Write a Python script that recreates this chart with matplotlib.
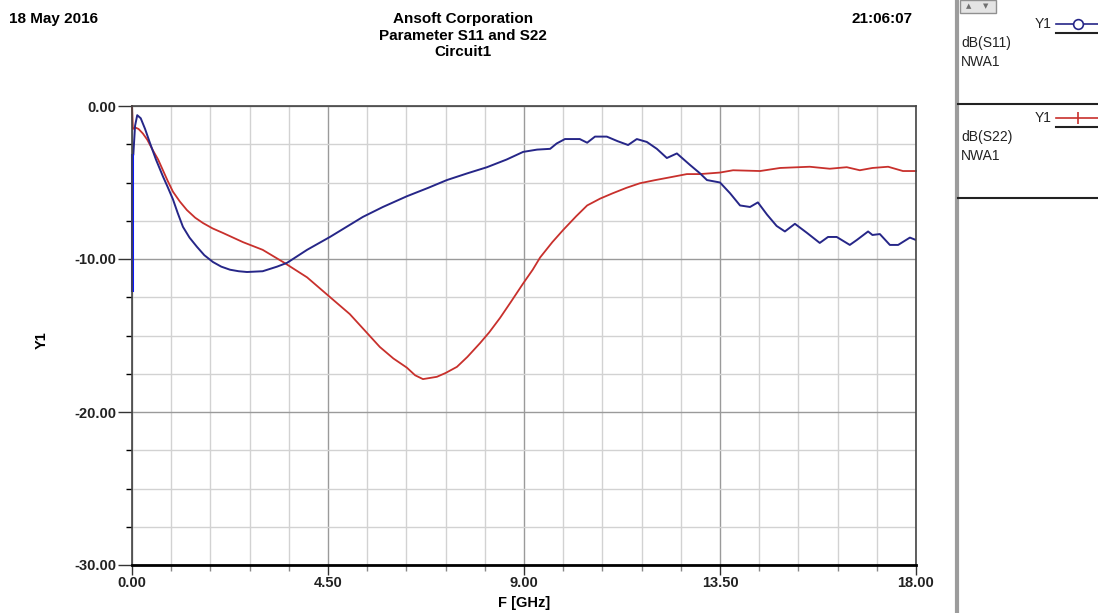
import matplotlib
matplotlib.use('Agg')
import matplotlib.pyplot as plt
from matplotlib.ticker import MultipleLocator, FormatStrFormatter
from matplotlib.patches import Rectangle

plt.rcParams['font.family'] = ['Liberation Sans', 'DejaVu Sans']

# S11 trace (blue)
s11_freq = [0.0, 0.0, 0.03, 0.07, 0.12, 0.2, 0.3, 0.41, 0.55, 0.71, 0.82, 0.94, 1.05, 1.17,
            1.32, 1.49, 1.66, 1.86, 2.05, 2.25, 2.45, 2.64, 3.0, 3.33, 3.56, 4.02, 4.55,
            5.3, 5.76, 6.31, 6.8, 7.23, 7.7, 8.15, 8.6, 8.98, 9.3, 9.6, 9.75, 9.94,
            10.28, 10.45, 10.63, 10.9, 11.15, 11.39, 11.59, 11.82, 12.05, 12.28, 12.51,
            12.81, 13.04, 13.2, 13.5, 13.73, 13.96, 14.19, 14.37, 14.58, 14.8, 14.99,
            15.22, 15.5, 15.79, 15.98, 16.18, 16.48, 16.64, 16.9, 17.0, 17.17, 17.4,
            17.59, 17.86, 18.0]
s11_db = [-12.0, -3.2, -3.2, -1.3, -0.6, -0.8, -1.5, -2.4, -3.5, -4.6, -5.3, -6.1, -7.0, -7.9,
          -8.6, -9.2, -9.75, -10.2, -10.5, -10.7, -10.8, -10.85, -10.8, -10.5, -10.25, -9.4,
          -8.55, -7.25, -6.6, -5.9, -5.35, -4.84, -4.4, -4.0, -3.5, -3.0, -2.85, -2.8, -2.45,
          -2.16, -2.16, -2.4, -2.0, -2.0, -2.3, -2.55, -2.16, -2.35, -2.8, -3.4, -3.1,
          -3.85, -4.4, -4.84, -5.0, -5.7, -6.5, -6.6, -6.3, -7.1, -7.84, -8.2,
          -7.7, -8.3, -8.95, -8.56, -8.56, -9.08, -8.76, -8.2, -8.43, -8.37, -9.08,
          -9.08, -8.6, -8.76]

# S22 trace (red)
s22_freq = [0.0, 0.02, 0.07, 0.15, 0.25, 0.35, 0.48, 0.6, 0.71, 0.82, 0.94, 1.1, 1.26, 1.45,
            1.63, 1.85, 2.09, 2.55, 3.0, 3.47, 4.02, 4.55, 5.0, 5.69, 6.0, 6.31, 6.5, 6.68,
            7.0, 7.2, 7.46, 7.7, 7.99, 8.2, 8.45, 8.7, 8.98, 9.2, 9.37, 9.65, 9.9, 10.2,
            10.45, 10.75, 11.04, 11.35, 11.66, 12.0, 12.28, 12.74, 13.04, 13.5, 13.8,
            14.42, 14.88, 15.56, 16.02, 16.41, 16.71, 17.0, 17.36, 17.7, 18.0]
s22_db = [0.0, -1.5, -1.4, -1.5, -1.8, -2.2, -2.9, -3.5, -4.2, -4.9, -5.6, -6.25, -6.8, -7.3,
          -7.65, -8.0, -8.3, -8.9, -9.4, -10.2, -11.2, -12.5, -13.6, -15.75, -16.5, -17.1,
          -17.6, -17.85, -17.7, -17.45, -17.05, -16.4, -15.5, -14.8, -13.85, -12.8, -11.6,
          -10.7, -9.9, -8.9, -8.1, -7.2, -6.5, -6.05, -5.7, -5.35, -5.05, -4.85, -4.7,
          -4.45, -4.45, -4.35, -4.2, -4.25, -4.05, -3.97, -4.1, -4.0, -4.2, -4.05, -3.97,
          -4.25, -4.25]

trace_names = ['dB(S11)', 'dB(S22)']
trace_colors = ['#262688', '#c8302c']

W, H = 1098, 613


def main():
    fig = plt.figure(figsize=(W / 100, H / 100), dpi=100)
    ax = fig.add_axes([132 / W, 1 - 565 / H, 784 / W, 459 / H])

    ax.set_xlim(0, 18)
    ax.set_ylim(-30, 0)
    ax.xaxis.set_major_locator(MultipleLocator(4.5))
    ax.xaxis.set_minor_locator(MultipleLocator(0.9))
    ax.yaxis.set_major_locator(MultipleLocator(10))
    ax.yaxis.set_minor_locator(MultipleLocator(2.5))
    ax.xaxis.set_major_formatter(FormatStrFormatter('%.2f'))
    ax.yaxis.set_major_formatter(FormatStrFormatter('%.2f'))

    ax.grid(True, which='minor', color='#d2d2d2', linewidth=1.0)
    ax.grid(True, which='major', color='#9a9a9a', linewidth=1.0)
    ax.set_axisbelow(True)

    ax.tick_params(axis='both', which='major', labelsize=10.5, color='#333333')
    ax.tick_params(axis='y', which='major', length=10, width=1, pad=1)
    ax.tick_params(axis='y', which='minor', length=4, width=1)
    ax.tick_params(axis='x', which='major', length=7, width=1, pad=1)
    ax.tick_params(axis='x', which='minor', length=4, width=1, color='#888888')
    for lab in ax.get_xticklabels() + ax.get_yticklabels():
        lab.set_fontweight('bold')
        lab.set_color('#222222')

    for side in ['top', 'right', 'left']:
        ax.spines[side].set_color('#444444')
        ax.spines[side].set_linewidth(1.2)
    ax.spines['bottom'].set_color('black')
    ax.spines['bottom'].set_linewidth(2)

    ax.plot(s22_freq, s22_db, color=trace_colors[1], linewidth=1.3, clip_on=False)
    ax.plot(s11_freq[1:], s11_db[1:], color=trace_colors[0], linewidth=1.4)
    ax.plot(s11_freq[:2], s11_db[:2], color='#0a18ff', linewidth=2.2, clip_on=False)

    ax.set_xlabel('F [GHz]', fontsize=10.5, fontweight='bold', labelpad=4)
    fig.text(42 / W, 1 - 340 / H, 'Y1', rotation=90, fontsize=10.5, fontweight='bold',
             ha='center', va='center')

    # header texts
    fig.text(9 / W, 1 - 19 / H, '18 May 2016', fontsize=11, fontweight='bold', va='center')
    fig.text(463 / W, 1 - 12 / H, 'Ansoft Corporation\nParameter S11 and S22\nCircuit1',
             fontsize=11, fontweight='bold', ha='center', va='top', linespacing=1.24)
    fig.text(913 / W, 1 - 19 / H, '21:06:07', fontsize=11, fontweight='bold',
             ha='right', va='center')

    # legend panel on the right
    pan = fig.add_axes([0, 0, 1, 1], facecolor='none')
    pan.set_xlim(0, W)
    pan.set_ylim(H, 0)
    pan.axis('off')
    pan.plot([957, 957], [0, H], color='#9c9c9c', linewidth=3)
    pan.add_patch(Rectangle((960, 0), 36, 13, facecolor='#e4e4e4', edgecolor='#909090'))
    pan.text(969, 6, '\u25b2', fontsize=5, color='#707070', ha='center', va='center',
             family='DejaVu Sans')
    pan.text(986, 6, '\u25bc', fontsize=5, color='#707070', ha='center', va='center',
             family='DejaVu Sans')

    rows = [24, 118]
    markers = ['o', '|']
    for i, y0 in enumerate(rows):
        pan.text(1052, y0, 'Y1', fontsize=10, ha='right', va='center', color='#222222')
        pan.plot([1056, 1098], [y0, y0], color=trace_colors[i], linewidth=1.2)
        pan.plot([1078], [y0], marker=markers[i], markersize=7 if i == 0 else 9,
                 markerfacecolor='white', markeredgecolor=trace_colors[i], markeredgewidth=1.2)
        pan.plot([1056, 1098], [y0 + 9, y0 + 9], color='#222222', linewidth=1.5)
        pan.text(961, y0 + 19, trace_names[i], fontsize=10, va='center', color='#222222')
        pan.text(961, y0 + 38, 'NWA1', fontsize=10, va='center', color='#222222')
        pan.plot([958, 1098], [y0 + 80, y0 + 80], color='#222222', linewidth=1.5)

    fig.savefig('out.png', dpi=100)


if __name__ == '__main__':
    main()
